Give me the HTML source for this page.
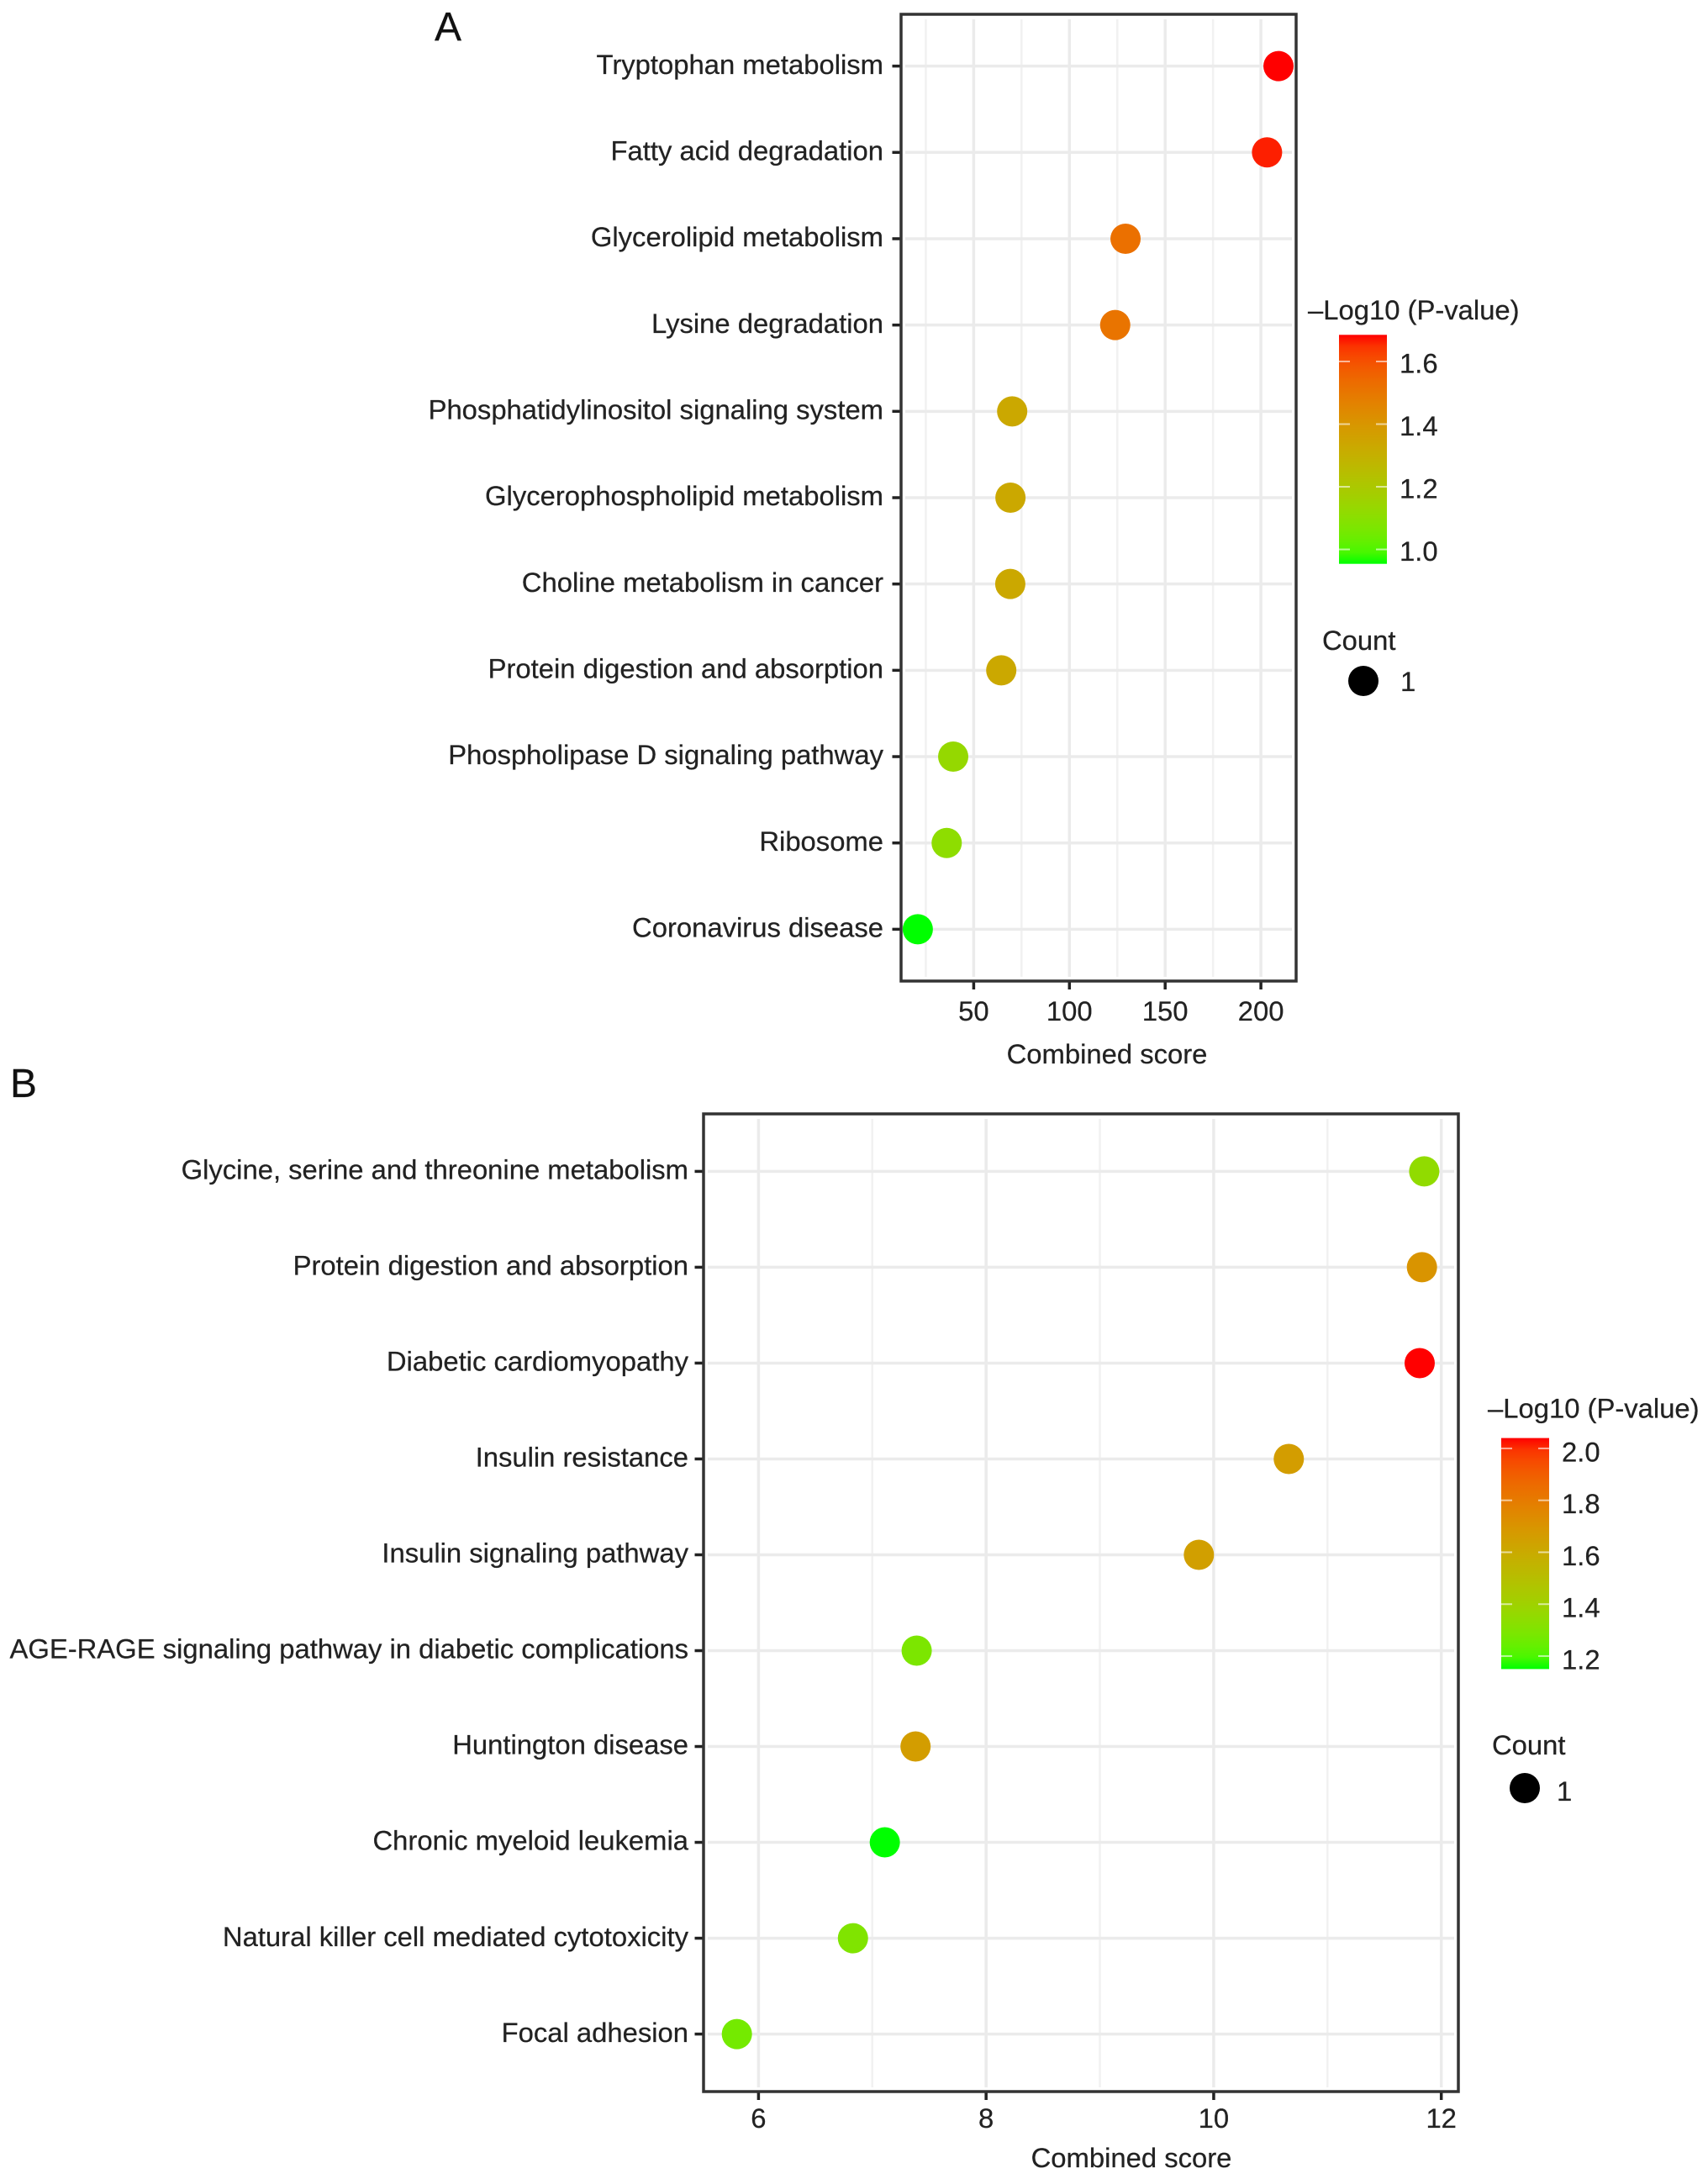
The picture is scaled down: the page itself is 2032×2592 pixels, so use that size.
<!DOCTYPE html>
<html lang="en">
<head>
<meta charset="utf-8">
<title>Combined score dot plots</title>
<style>
  html, body { margin: 0; padding: 0; background: #fff; }
  #figure { display: block; width: 2032px; height: 2592px; }
  text { font-family: "Liberation Sans", Arial, sans-serif; fill: #222; font-size: 32.8px; stroke: #222; stroke-width: 0.25px; }
</style>
</head>
<body>
<svg id="figure" xmlns="http://www.w3.org/2000/svg" width="2032" height="2592" viewBox="0 0 2032 2592">
  <rect x="0" y="0" width="2032" height="2592" fill="#ffffff"/>
  <defs id="defs"></defs>
  <text x="517" y="48" style="font-size:48px;fill:#111">A</text>
  <text x="12" y="1305" style="font-size:48px;fill:#111">B</text>
</svg>
<script>
// ---- Panel A data ----
const aCategories = ["Tryptophan metabolism","Fatty acid degradation","Glycerolipid metabolism","Lysine degradation","Phosphatidylinositol signaling system","Glycerophospholipid metabolism","Choline metabolism in cancer","Protein digestion and absorption","Phospholipase D signaling pathway","Ribosome","Coronavirus disease"];
const aScores = [209.2,203.2,129.3,123.9,70.1,69.2,69.1,64.4,39.3,35.9,20.8];
const aPValues = [1.685,1.67,1.52,1.51,1.33,1.33,1.33,1.33,1.13,1.11,0.954];
const aXTicks = [50,100,150,200];
const aXMinor = [25,75,125,175];
const aLegendTicks = [1.6,1.4,1.2,1.0];
const aLegendLabels = ["1.6","1.4","1.2","1.0"];
const aXLimits = [12.07,218.4];
const aColorLimits = [0.954,1.685];

// ---- Panel B data ----
const bCategories = ["Glycine, serine and threonine metabolism","Protein digestion and absorption","Diabetic cardiomyopathy","Insulin resistance","Insulin signaling pathway","AGE-RAGE signaling pathway in diabetic complications","Huntington disease","Chronic myeloid leukemia","Natural killer cell mediated cytotoxicity","Focal adhesion"];
const bScores = [11.85,11.83,11.81,10.66,9.87,7.39,7.38,7.11,6.83,5.81];
const bPValues = [1.35,1.70,2.04,1.66,1.65,1.29,1.66,1.15,1.30,1.27];
const bXTicks = [6,8,10,12];
const bXMinor = [7,9,11];
const bLegendTicks = [2.0,1.8,1.6,1.4,1.2];
const bLegendLabels = ["2.0","1.8","1.6","1.4","1.2"];
const bXLimits = [5.517,12.15];
const bColorLimits = [1.15,2.04];

const svg = document.getElementById('figure');
const defs = document.getElementById('defs');
const NS = 'http://www.w3.org/2000/svg';

function make(tag, attrs, text) {
  const node = document.createElementNS(NS, tag);
  for (const k in attrs) node.setAttribute(k, attrs[k]);
  if (text !== undefined) node.textContent = text;
  svg.appendChild(node);
  return node;
}

// sRGB <-> Lab so the gradient matches ggplot's Lab interpolation
function toLin(c) { c /= 255; return c <= 0.04045 ? c / 12.92 : Math.pow((c + 0.055) / 1.055, 2.4); }
function fromLin(c) { c = c <= 0.0031308 ? 12.92 * c : 1.055 * Math.pow(c, 1 / 2.4) - 0.055; return Math.round(Math.min(1, Math.max(0, c)) * 255); }
function rgb2lab(r, g, b) {
  const R = toLin(r), G = toLin(g), B = toLin(b);
  const X = (0.4124564 * R + 0.3575761 * G + 0.1804375 * B) / 0.95047;
  const Y = 0.2126729 * R + 0.7151522 * G + 0.0721750 * B;
  const Z = (0.0193339 * R + 0.1191920 * G + 0.9503041 * B) / 1.08883;
  const f = t => t > 0.008856 ? Math.cbrt(t) : 7.787 * t + 16 / 116;
  return [116 * f(Y) - 16, 500 * (f(X) - f(Y)), 200 * (f(Y) - f(Z))];
}
function lab2hex(L, a, b) {
  const fy = (L + 16) / 116, fx = fy + a / 500, fz = fy - b / 200;
  const g = t => t * t * t > 0.008856 ? t * t * t : (t - 16 / 116) / 7.787;
  const X = g(fx) * 0.95047, Y = g(fy), Z = g(fz) * 1.08883;
  const R = 3.2404542 * X - 1.5371385 * Y - 0.4985314 * Z;
  const G = -0.9692660 * X + 1.8760108 * Y + 0.0415560 * Z;
  const B = 0.0556434 * X - 0.2040259 * Y + 1.0572252 * Z;
  return 'rgb(' + fromLin(R) + ',' + fromLin(G) + ',' + fromLin(B) + ')';
}
const labLow = rgb2lab(0, 255, 0), labHigh = rgb2lab(255, 0, 0);
function gradientColor(t) {
  t = Math.min(1, Math.max(0, t));
  return lab2hex(labLow[0] + (labHigh[0] - labLow[0]) * t, labLow[1] + (labHigh[1] - labLow[1]) * t, labLow[2] + (labHigh[2] - labLow[2]) * t);
}

function drawPanel(p) {
  const xScale = v => p.left + (v - p.xLimits[0]) / (p.xLimits[1] - p.xLimits[0]) * (p.right - p.left);
  const rowStep = (p.bottom - p.top) / (p.categories.length - 1 + 1.2);
  const yScale = i => p.top + rowStep * (0.6 + i);
  const colorScale = v => gradientColor((v - p.colorLimits[0]) / (p.colorLimits[1] - p.colorLimits[0]));

  p.xMinor.forEach(v => {
    const line = make('line', { x1: xScale(v), x2: xScale(v), y1: p.top + 6, y2: p.bottom - 5, stroke: '#f1f1f1', 'stroke-width': 2.5 });
    
    
  });
  p.xTicks.forEach(v => {
    const line = make('line', { x1: xScale(v), x2: xScale(v), y1: p.top + 6, y2: p.bottom - 5, stroke: '#ebebeb', 'stroke-width': 3.5 });
    
    
  });
  p.categories.forEach((c, i) => {
    const line = make('line', { x1: p.left + 5, x2: p.right - 5, y1: yScale(i), y2: yScale(i), stroke: '#ebebeb', 'stroke-width': 3.5 });
    
    
  });

  // y axis
  p.categories.forEach((c, i) => {
    const tick = make('line', { x1: p.left - 10.5, x2: p.left, y1: yScale(i), y2: yScale(i), stroke: '#222', 'stroke-width': 3.5 });
    
    
    const label = make('text', { x: p.labelRight, y: yScale(i) + 9.2, 'text-anchor': 'end' }, c);
    
    
  });

  // x axis
  p.xTicks.forEach(v => {
    const tick = make('line', { x1: xScale(v), x2: xScale(v), y1: p.bottom, y2: p.bottom + 10, stroke: '#222', 'stroke-width': 3.5 });
    
    
    const label = make('text', { x: xScale(v), y: p.xLabelBaseline, 'text-anchor': 'middle' }, String(v));
    
    
  });
  const xTitle = make('text', { x: p.xTitleX, y: p.xTitleBaseline, 'text-anchor': 'middle' }, 'Combined score');
  
  

  // points
  p.categories.forEach((c, i) => {
    const dot = make('circle', { cx: xScale(p.scores[i]), cy: yScale(i), r: 18, fill: colorScale(p.pValues[i]) });
    
    
  });

  // panel border
  const border = make('rect', { x: p.left, y: p.top, width: p.right - p.left, height: p.bottom - p.top, fill: 'none', stroke: '#333', 'stroke-width': 3.5 });
  
  

  // colour legend
  const lg = p.legend;
  const legendTitle = make('text', { x: lg.titleX, y: lg.titleBaseline }, '\u2013Log10 (P-value)');
  
  

  const grad = document.createElementNS(NS, 'linearGradient');
  grad.setAttribute('id', p.id + '-grad');
  grad.setAttribute('x1', '0'); grad.setAttribute('x2', '0');
  grad.setAttribute('y1', '1'); grad.setAttribute('y2', '0');
  for (let s = 0; s <= 20; s++) {
    const stop = document.createElementNS(NS, 'stop');
    stop.setAttribute('offset', s / 20);
    stop.setAttribute('stop-color', gradientColor(s / 20));
    grad.appendChild(stop);
  }
  defs.appendChild(grad);

  const legendY = v => lg.barBottom - (v - p.colorLimits[0]) / (p.colorLimits[1] - p.colorLimits[0]) * (lg.barBottom - lg.barTop);
  const bar = make('rect', { x: lg.barX, y: lg.barTop, width: lg.barW, height: lg.barBottom - lg.barTop, fill: 'url(#' + p.id + '-grad)' });
  
  

  p.legendTicks.forEach((v, i) => {
    const y = legendY(v);
    const t1 = make('line', { x1: lg.barX, x2: lg.barX + 13, y1: y, y2: y, stroke: '#fff', 'stroke-opacity': 0.6, 'stroke-width': 2 });
    
    
    const t2 = make('line', { x1: lg.barX + lg.barW - 13, x2: lg.barX + lg.barW, y1: y, y2: y, stroke: '#fff', 'stroke-opacity': 0.6, 'stroke-width': 2 });
    
    
    const label = make('text', { x: lg.labelX, y: y + lg.labelOffset }, p.legendLabels[i]);
    
    
  });

  // size legend
  const countTitle = make('text', { x: lg.countX, y: lg.countBaseline }, 'Count');
  
  
  const keyDot = make('circle', { cx: lg.keyX, cy: lg.keyY, r: 18, fill: '#000' });
  
  
  const keyLabel = make('text', { x: lg.keyLabelX, y: lg.keyLabelBaseline }, '1');
  
  
}

drawPanel({
  id: 'a', categories: aCategories, scores: aScores, pValues: aPValues,
  xTicks: aXTicks, xMinor: aXMinor, xLimits: aXLimits, colorLimits: aColorLimits,
  legendTicks: aLegendTicks, legendLabels: aLegendLabels,
  left: 1072, right: 1542, top: 17, bottom: 1167, labelRight: 1051,
  xLabelBaseline: 1214, xTitleX: 1317, xTitleBaseline: 1265,
  legend: { titleX: 1556, titleBaseline: 380, barX: 1593, barW: 57, barTop: 398.3, barBottom: 670.7, labelX: 1665, labelOffset: 13.5,
            countX: 1573, countBaseline: 773, keyX: 1622, keyY: 810, keyLabelX: 1666, keyLabelBaseline: 822 }
});

drawPanel({
  id: 'b', categories: bCategories, scores: bScores, pValues: bPValues,
  xTicks: bXTicks, xMinor: bXMinor, xLimits: bXLimits, colorLimits: bColorLimits,
  legendTicks: bLegendTicks, legendLabels: bLegendLabels,
  left: 837, right: 1735, top: 1325, bottom: 2488, labelRight: 819,
  xLabelBaseline: 2531, xTitleX: 1346, xTitleBaseline: 2578,
  legend: { titleX: 1770, titleBaseline: 1686.5, barX: 1786, barW: 57, barTop: 1710.6, barBottom: 1985.4, labelX: 1858, labelOffset: 15.5,
            countX: 1775, countBaseline: 2087, keyX: 1814, keyY: 2127, keyLabelX: 1852, keyLabelBaseline: 2142 }
});
</script>
</body>
</html>
